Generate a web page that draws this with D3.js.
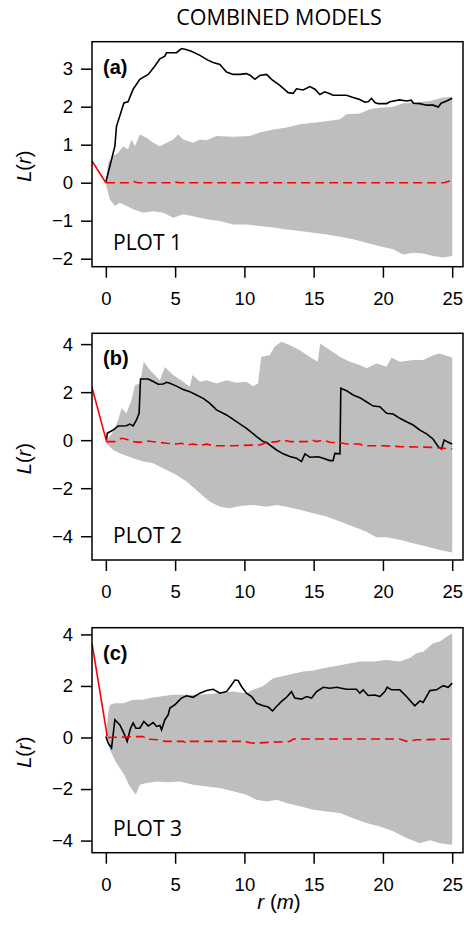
<!DOCTYPE html>
<html>
<head>
<meta charset="utf-8">
<script src="https://cdn.jsdelivr.net/npm/d3@7"></script>
<style>
body { margin: 0; background: #fff; }
svg text { fill: #000; }
.tick text { font-family: "Liberation Sans", Arial, sans-serif; font-size: 18.5px; }
</style>
</head>
<body>
<svg id="chart" width="464" height="927"></svg>
<script>
// r (m) values and L(r), [r, L]
var xTicks = [0, 5, 10, 15, 20, 25];

var obsA = [[0,0.02],[0.41,0.61],[0.65,0.96],[0.77,1.49],[1.0,1.75],[1.3,2.1],[1.6,2.13],[1.97,2.46],[2.45,2.72],[3.06,2.85],[3.54,3.07],[3.9,3.26],[4.26,3.33],[4.38,3.42],[5.1,3.42],[5.46,3.53],[5.7,3.51],[6.18,3.46],[6.79,3.35],[7.39,3.22],[7.75,3.16],[8.23,3.11],[8.71,2.91],[9.19,2.85],[9.67,2.85],[10.15,2.87],[10.44,2.82],[10.76,2.72],[11.1,2.82],[11.6,2.85],[11.96,2.72],[12.56,2.56],[13.16,2.37],[13.52,2.35],[13.76,2.47],[14.24,2.44],[14.73,2.53],[15.09,2.46],[15.45,2.32],[15.8,2.39],[16.17,2.34],[16.4,2.3],[17.37,2.3],[17.85,2.24],[18.33,2.19],[18.7,2.12],[18.93,2.13],[19.18,2.22],[19.42,2.11],[19.66,2.08],[20.26,2.08],[20.5,2.13],[21.2,2.18],[21.7,2.15],[22.05,2.17],[22.2,2.09],[22.67,2.08],[23.15,2.04],[23.63,2.04],[24.0,1.99],[24.2,2.09],[24.6,2.15],[25,2.22]];
var hiA = [[0,0.02],[0.17,0.53],[0.53,0.7],[0.89,0.79],[1.25,0.96],[1.6,0.88],[1.85,1.14],[2.1,0.96],[2.45,1.27],[2.94,1.18],[3.42,1.05],[3.9,0.96],[4.38,1.05],[4.86,1.14],[5.22,1.27],[5.58,1.14],[6.3,1.05],[6.79,1.14],[7.27,1.12],[7.99,1.23],[9.19,1.21],[10.4,1.23],[11.1,1.32],[12.1,1.4],[13.04,1.45],[14.0,1.54],[14.97,1.58],[15.93,1.62],[16.9,1.67],[17.37,1.8],[18.33,1.82],[19.06,1.93],[19.78,1.97],[20.74,2.0],[21.46,2.09],[22.42,2.12],[23.39,2.15],[24.35,2.24],[25,2.26]];
var loA = [[0,-0.04],[0.29,-0.44],[0.65,-0.61],[1.0,-0.53],[1.5,-0.61],[1.97,-0.7],[2.7,-0.79],[3.42,-0.75],[4.14,-0.79],[4.86,-0.92],[5.58,-0.83],[6.3,-0.88],[7.27,-0.96],[8.23,-1.01],[9.19,-1.1],[10.15,-1.1],[11.1,-1.14],[12.1,-1.18],[13.04,-1.23],[14.0,-1.27],[14.97,-1.32],[15.93,-1.36],[16.9,-1.42],[17.85,-1.49],[18.8,-1.58],[19.78,-1.67],[20.74,-1.75],[21.46,-1.89],[22.2,-1.84],[22.9,-1.86],[23.63,-1.93],[24.35,-1.97],[25,-1.93]];
var theoA = [[0,0],[1.8,0],[2.0,0.03],[2.3,0],[4.7,0],[4.9,0.02],[5.3,0],[11.6,0],[11.8,0.02],[12.2,0],[24.4,0],[24.9,0.05]];
var leadA = [[-1,0.57],[0,0]];

var obsB = [[0.05,0.01],[0.1,0.29],[0.53,0.42],[0.89,0.59],[1.49,0.6],[1.73,0.67],[1.97,0.59],[2.21,0.84],[2.4,1.12],[2.5,2.55],[3.06,2.55],[3.42,2.44],[3.78,2.33],[4.14,2.34],[4.38,2.41],[4.62,2.37],[5.1,2.25],[5.58,2.11],[6.06,2.02],[6.54,1.88],[7.03,1.74],[7.51,1.53],[7.99,1.26],[8.71,1.05],[9.43,0.77],[10.15,0.49],[10.88,0.15],[11.36,-0.06],[11.6,-0.1],[12.32,-0.41],[12.8,-0.57],[13.28,-0.68],[13.76,-0.75],[14.12,-0.89],[14.37,-0.57],[14.73,-0.71],[15.33,-0.69],[15.69,-0.75],[16.17,-0.85],[16.4,-0.85],[16.53,-0.55],[16.9,-0.57],[16.96,2.16],[17.37,2.06],[17.85,1.88],[18.33,1.77],[18.8,1.6],[19.3,1.42],[19.78,1.39],[20.26,1.12],[20.74,1.09],[21.22,0.91],[21.7,0.77],[22.18,0.63],[22.67,0.42],[23.15,0.26],[23.63,0.04],[23.99,-0.27],[24.23,-0.37],[24.42,0.01],[24.71,-0.09],[25,-0.16]];
var hiB = [[0,-0.06],[0.53,0.35],[0.89,0.84],[1.13,1.33],[1.49,1.12],[1.85,1.67],[2.09,2.29],[2.45,2.36],[2.74,3.27],[3.18,2.92],[3.9,2.5],[4.26,3.05],[4.86,2.71],[5.58,2.43],[6.06,2.22],[6.26,2.71],[6.79,2.43],[7.27,2.5],[7.99,2.36],[8.71,2.5],[9.43,2.39],[10.15,2.43],[10.63,2.25],[10.98,2.36],[11.22,3.47],[11.82,3.54],[12.18,3.89],[12.66,4.1],[13.26,3.96],[13.98,3.75],[14.7,3.47],[15.3,3.27],[15.47,4.03],[16.17,3.75],[16.89,3.47],[17.61,3.27],[18.33,3.13],[18.82,2.99],[19.53,3.19],[20.26,3.06],[20.62,3.44],[21.22,3.27],[22.18,3.34],[22.9,3.34],[23.63,3.54],[24.11,3.61],[25,3.44]];
var loB = [[0,-0.13],[0.53,-0.41],[1.0,-0.55],[1.97,-0.75],[2.7,-0.89],[3.42,-0.96],[4.38,-1.24],[5.1,-1.45],[5.82,-1.72],[6.79,-2.21],[7.51,-2.56],[8.23,-2.77],[8.95,-2.83],[9.67,-2.74],[10.63,-2.7],[11.6,-2.77],[12.32,-2.7],[13.04,-2.77],[14.0,-2.9],[14.97,-3.04],[15.93,-3.18],[16.9,-3.39],[17.85,-3.6],[18.8,-3.81],[19.53,-4.04],[20.26,-4.04],[21.22,-4.15],[22.18,-4.29],[23.15,-4.43],[24.11,-4.57],[25,-4.68]];
var theoB = [[0.05,-0.06],[0.65,-0.06],[1.13,0.08],[1.49,0.04],[1.97,-0.06],[2.45,-0.09],[2.94,-0.03],[4.38,-0.13],[5.1,-0.16],[5.46,-0.13],[5.82,-0.2],[6.3,-0.16],[6.79,-0.23],[7.27,-0.16],[7.75,-0.23],[9.19,-0.23],[11.12,-0.2],[11.6,-0.1],[12.32,-0.06],[12.8,0.01],[13.28,-0.06],[14.49,-0.06],[14.85,0.01],[15.21,-0.06],[15.69,0.01],[16.17,-0.09],[16.89,-0.1],[17.37,-0.16],[18.33,-0.16],[18.58,-0.23],[20.02,-0.23],[21.22,-0.27],[23.63,-0.3],[25,-0.37]];
var leadB = [[-1,2.2],[0.05,-0.06]];

var obsC = [[0,0.04],[0.17,-0.22],[0.41,-0.41],[0.65,0.69],[1.01,0.49],[1.25,0.23],[1.54,-0.15],[1.78,0.36],[1.97,0.56],[2.17,0.36],[2.45,0.36],[2.74,0.62],[3.06,0.45],[3.42,0.58],[3.66,0.43],[3.9,0.47],[4.02,0.3],[4.26,0.69],[4.5,0.88],[4.62,1.14],[4.98,1.27],[5.22,1.4],[5.46,1.53],[5.82,1.62],[6.3,1.56],[6.79,1.72],[7.27,1.82],[7.75,1.87],[8.23,1.72],[8.71,1.78],[9.07,2.04],[9.31,2.23],[9.55,2.21],[9.79,1.98],[10.15,1.72],[10.52,1.59],[10.88,1.33],[11.36,1.23],[11.72,1.18],[12.03,1.03],[12.32,1.2],[12.68,1.4],[13.04,1.56],[13.4,1.78],[13.64,1.53],[14.12,1.49],[14.49,1.59],[14.85,1.53],[15.21,1.78],[15.69,1.95],[16.17,1.91],[16.65,1.95],[17.37,1.87],[18.09,1.87],[18.33,1.72],[18.57,1.85],[18.93,1.63],[19.42,1.65],[19.78,1.59],[20.14,1.78],[20.31,1.95],[20.62,1.85],[21.22,1.85],[21.7,1.59],[22.3,1.23],[22.67,1.42],[22.9,1.36],[23.39,1.82],[23.87,1.85],[24.35,2.01],[24.71,1.95],[25,2.11]];
var hiC = [[0,0.04],[0.17,0.94],[0.29,1.27],[0.65,1.33],[1.25,1.33],[1.97,1.46],[2.69,1.46],[3.18,1.53],[3.9,1.59],[4.86,1.66],[5.82,1.66],[6.79,1.66],[7.99,1.72],[9.19,1.78],[10.15,1.72],[10.63,1.85],[11.36,2.0],[12.08,2.3],[12.8,2.39],[13.52,2.47],[14.24,2.56],[14.97,2.6],[15.69,2.69],[16.41,2.75],[17.37,2.85],[18.33,2.95],[19.3,2.95],[20.26,3.01],[21.22,2.95],[21.94,3.08],[22.42,3.27],[22.9,3.33],[23.63,3.66],[24.11,3.72],[24.59,3.91],[25,4.04]];
var loC = [[0,-0.02],[0.29,-0.48],[0.77,-1.0],[1.25,-1.38],[1.73,-1.9],[2.17,-2.22],[2.45,-1.83],[2.94,-1.77],[3.66,-1.71],[4.38,-1.74],[5.34,-1.71],[6.3,-1.83],[7.27,-1.9],[8.23,-1.96],[9.19,-2.09],[10.15,-2.22],[10.88,-2.42],[11.6,-2.48],[12.32,-2.42],[13.04,-2.54],[14.0,-2.67],[14.97,-2.8],[15.93,-2.87],[16.9,-2.93],[17.85,-3.13],[18.8,-3.32],[19.78,-3.45],[20.74,-3.64],[21.7,-3.9],[22.67,-4.1],[23.39,-3.99],[24.11,-4.1],[25,-4.16]];
var theoC = [[0.15,0],[2.69,0.04],[2.94,-0.06],[3.9,-0.09],[4.26,-0.15],[5.58,-0.15],[5.82,-0.22],[6.06,-0.15],[9.91,-0.15],[10.63,-0.22],[13.28,-0.15],[13.52,-0.06],[21.22,-0.06],[21.7,-0.15],[22.42,-0.09],[24.8,-0.06]];
var leadC = [[-1,3.66],[0.1,0.04]];

var panels = [
  {tag: "(a)", name: "PLOT 1", obs: obsA, hi: hiA, lo: loA, theo: theoA, lead: leadA,
   yTicks: [-2, -1, 0, 1, 2, 3], top: 41.7, bottom: 266.7, y0: -2.21, y1: 3.71},
  {tag: "(b)", name: "PLOT 2", obs: obsB, hi: hiB, lo: loB, theo: theoB, lead: leadB,
   yTicks: [-4, -2, 0, 2, 4], top: 333.3, bottom: 560, y0: -4.99, y1: 4.45},
  {tag: "(c)", name: "PLOT 3", obs: obsC, hi: hiC, lo: loC, theo: theoC, lead: leadC,
   yTicks: [-4, -2, 0, 2, 4], top: 627.7, bottom: 852.7, y0: -4.47, y1: 4.26}
];

var svg = d3.select("#chart");
var left = 92, right = 463;

var x = d3.scaleLinear().domain([-1, 25.78]).range([left, right]);

svg.append("text")
  .attr("x", 279).attr("y", 25)
  .attr("text-anchor", "middle")
  .style("font-family", "'Open Sans', sans-serif")
  .style("font-size", "21.5px")
  .text("COMBINED MODELS");

panels.forEach(function(p, i) {
  var y = d3.scaleLinear().domain([p.y0, p.y1]).range([p.bottom, p.top]);
  var g = svg.append("g");

  g.append("clipPath").attr("id", "clip" + i)
    .append("rect")
    .attr("x", left).attr("y", p.top)
    .attr("width", right - left).attr("height", p.bottom - p.top);

  var plot = g.append("g").attr("clip-path", "url(#clip" + i + ")");

  var line = d3.line()
    .x(function(d) { return x(d[0]); })
    .y(function(d) { return y(d[1]); });

  // envelope: upper points forward, lower points back
  var env = p.hi.concat(p.lo.slice().reverse());
  plot.append("path")
    .attr("d", line(env) + "Z")
    .style("fill", "#bebebe")
    .style("stroke", "none");

  plot.append("path").attr("d", line(p.obs))
    .style("fill", "none").style("stroke", "#000").style("stroke-width", 1.6);

  plot.append("path").attr("d", line(p.theo))
    .style("fill", "none").style("stroke", "#ff0000").style("stroke-width", 1.6)
    .style("stroke-dasharray", "9,5");

  plot.append("path").attr("d", line(p.lead))
    .style("fill", "none").style("stroke", "#ff0000").style("stroke-width", 1.6);

  // axes
  var ax = g.append("g")
    .attr("transform", "translate(0," + p.bottom + ")")
    .call(d3.axisBottom(x).tickValues(xTicks).tickSize(11).tickSizeOuter(0));
  var ay = g.append("g")
    .attr("transform", "translate(" + left + ",0)")
    .call(d3.axisLeft(y).tickValues(p.yTicks).tickFormat(d3.format("d")).tickSize(11).tickSizeOuter(0));
  [ax, ay].forEach(function(a) {
    a.select(".domain").remove();
    a.selectAll(".tick line").style("stroke", "#000").style("stroke-width", 1.5);
  });
  ax.selectAll(".tick text").attr("dy", "0.71em").attr("y", 25);
  ay.selectAll(".tick text").attr("x", -19);

  g.append("rect")
    .attr("x", left).attr("y", p.top)
    .attr("width", right - left).attr("height", p.bottom - p.top)
    .style("fill", "none").style("stroke", "#000").style("stroke-width", 1.5);

  g.append("text")
    .attr("x", 103).attr("y", p.top + 32)
    .style("font-family", "'Liberation Sans', Arial, sans-serif")
    .style("font-weight", "bold")
    .style("font-size", "20px")
    .text(p.tag);

  g.append("text")
    .attr("x", 113).attr("y", p.bottom - 16.7)
    .style("font-family", "'Open Sans', sans-serif")
    .style("font-size", "21px")
    .text(p.name);

  var ylab = g.append("text")
    .attr("transform", "translate(31," + ((p.top + p.bottom) / 2 + 12) + ") rotate(-90)")
    .attr("text-anchor", "middle")
    .style("font-family", "'Liberation Sans', Arial, sans-serif")
    .style("font-size", "20px")
    .style("font-style", "italic");
  ylab.append("tspan").text("L");
  ylab.append("tspan").style("font-style", "normal").text("(");
  ylab.append("tspan").text("r");
  ylab.append("tspan").style("font-style", "normal").text(")");
});

var xlab = svg.append("text")
  .attr("x", 279).attr("y", 909)
  .attr("text-anchor", "middle")
  .style("font-family", "'Liberation Sans', Arial, sans-serif")
  .style("font-size", "20.5px")
  .style("font-style", "italic");
xlab.append("tspan").text("r ");
xlab.append("tspan").style("font-style", "normal").text("(");
xlab.append("tspan").text("m");
xlab.append("tspan").style("font-style", "normal").text(")");
</script>
</body>
</html>
